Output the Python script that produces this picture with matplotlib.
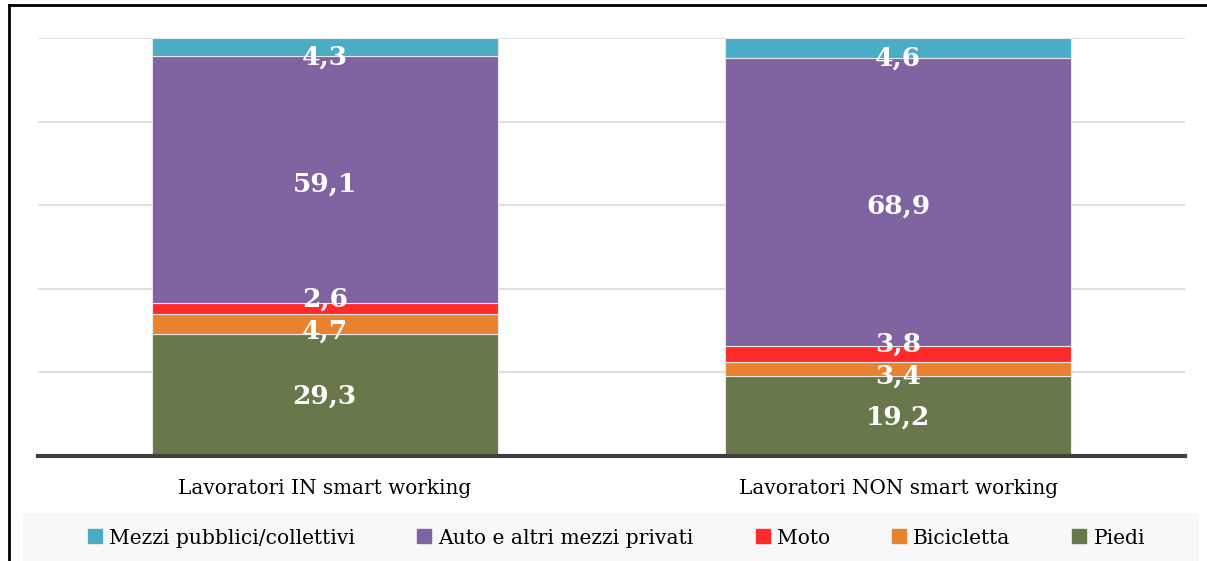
import numpy as np
import matplotlib
matplotlib.use("Agg")
import matplotlib.pyplot as plt
from matplotlib.patches import Rectangle
from matplotlib.lines import Line2D

# =========================
# DATA
# =========================

categories = ["Lavoratori IN smart working", "Lavoratori NON smart working"]
series_names = ["Piedi", "Bicicletta", "Moto", "Auto e altri mezzi privati",
                "Mezzi pubblici/collettivi"]
piedi = [29.3, 19.2]
bicicletta = [4.7, 3.4]
moto = [2.6, 3.8]
auto = [59.1, 68.9]
mezzi = [4.3, 4.6]

colors = ["#68784A", "#E8822E", "#FF2A2A", "#8064A2", "#4BACC6"]
# label nudges (points, negative = down) to mimic the spread of the labels
label_dy = [-1, -5, 7, -3, -7]

plt.rcParams["font.family"] = ["DejaVu Serif"]

# =========================
# FIGURE
# =========================

W, H = 1207, 561
fig = plt.figure(figsize=(W / 100, H / 100), dpi=100)
ax = fig.add_axes([38 / W, (H - 456) / H, (1185 - 38) / W, (456 - 38) / H])

x = np.arange(len(categories))
bottom = np.zeros(len(categories))
all_series = [piedi, bicicletta, moto, auto, mezzi]

for vals, name, col, dy in zip(all_series, series_names, colors, label_dy):
    vals = np.array(vals)
    ax.bar(x, vals, bottom=bottom, width=0.603, color=col,
           edgecolor="#E8E8E8", linewidth=0.8, zorder=2, label=name)
    for xi, v, b in zip(x, vals, bottom):
        ax.annotate(f"{v:.1f}".replace(".", ","), (xi, b + v / 2),
                    xytext=(0, dy), textcoords="offset points",
                    ha="center", va="center", color="white",
                    fontsize=19, fontweight="bold", zorder=5)
    bottom += vals

ax.set_xlim(-0.5, 1.5)
ax.set_ylim(0, 100)
ax.set_yticks([0, 20, 40, 60, 80, 100])
ax.yaxis.grid(True, color="#D9D9D9", linewidth=1.2, zorder=0)
ax.set_yticklabels([])
ax.tick_params(left=False, bottom=False)
for s in ["left", "right", "top"]:
    ax.spines[s].set_visible(False)
ax.spines["bottom"].set_color("#404040")
ax.spines["bottom"].set_linewidth(3)
ax.spines["bottom"].set_zorder(6)
ax.set_xticks(x)
ax.set_xticklabels(categories, fontsize=14.4)
ax.tick_params(axis="x", pad=13)

# legend background
fig.patches.append(Rectangle((23 / W, 0), (1199 - 23) / W, (561 - 513) / H,
                             transform=fig.transFigure, facecolor="#F8F8F8",
                             edgecolor="none", zorder=0))

order = [4, 3, 2, 1, 0]
handles = [Line2D([], [], marker="s", linestyle="none", markersize=10,
                  markerfacecolor=colors[i], markeredgecolor=colors[i])
           for i in order]
fig.legend(handles, [series_names[i] for i in order], loc="center",
           bbox_to_anchor=(616 / W, (561 - 538) / H), ncol=5, frameon=False,
           fontsize=14.6, handletextpad=0.3, columnspacing=3.0,
           handlelength=0.8)

# border (left and top only)
fig.add_artist(Line2D([9 / W, 9 / W], [0, (H - 5) / H], color="black",
                      linewidth=2, transform=fig.transFigure))
fig.add_artist(Line2D([9 / W, 1], [(H - 5) / H, (H - 5) / H], color="black",
                      linewidth=2, transform=fig.transFigure))

fig.savefig("out.png", dpi=100)
